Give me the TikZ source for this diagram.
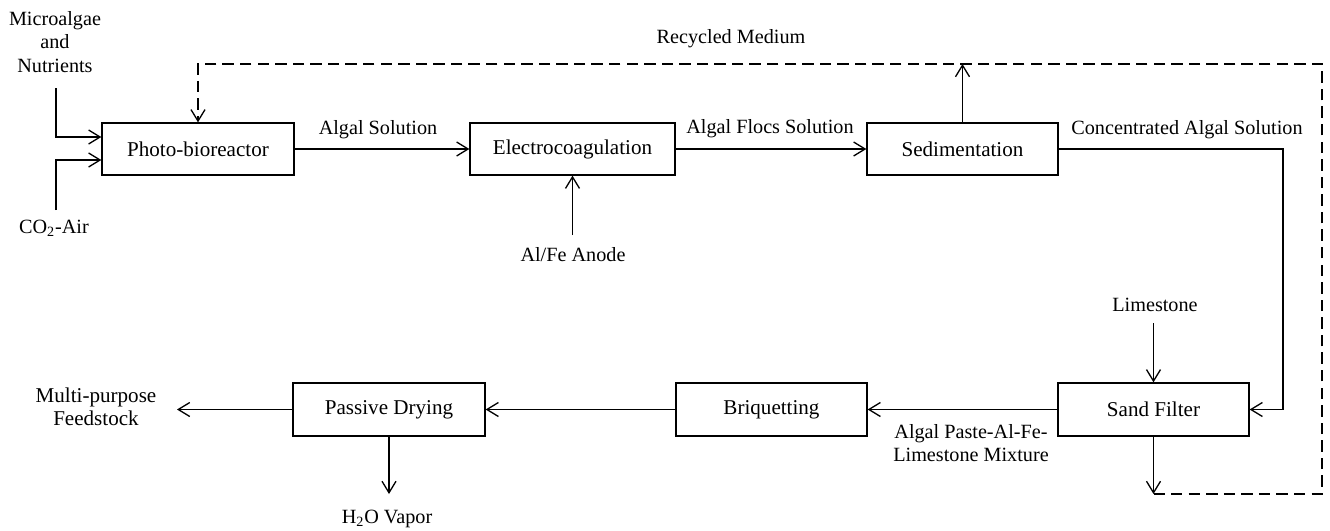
\documentclass[tikz,border=0pt]{standalone}
\usepackage{fontspec}
\setmainfont{Liberation Serif}
\usetikzlibrary{arrows.meta}
\begin{document}
\begin{tikzpicture}[x=0.02cm,y=-0.02cm,
  box/.style={draw,line width=0.75pt,minimum height=1.04cm,inner sep=0pt,font=\fontsize{12}{14}\selectfont},
  lbl/.style={inner sep=0pt,align=center,font=\fontsize{11.5}{13.3}\selectfont},
  arr/.style={line width=0.75pt,-{Straight Barb[length=2.3mm,width=2.8mm]}},
  ln/.style={line width=0.75pt},
  dsh/.style={dash pattern=on 6.5pt off 3.5pt}]
\useasboundingbox (0,0) rectangle (1330,531);

% process boxes
\node[box,minimum width=3.84cm] (pbr) at (198,149) {Photo-bioreactor};
\node[box,minimum width=4.10cm] (ec)  at (572.5,149) {Electrocoagulation};
\node[box,minimum width=3.82cm] (sed) at (962.5,149) {Sedimentation};
\node[box,minimum width=3.82cm,minimum height=1.06cm] (sf)  at (1153.5,409.5) {Sand Filter};
\node[box,minimum width=3.82cm,minimum height=1.06cm] (bq)  at (771.5,409.5) {Briquetting};
\node[box,minimum width=3.84cm,minimum height=1.06cm] (pd)  at (389,409.5) {Passive Drying};

% text labels
\node[lbl] (mic) at (55,42) {Microalgae\\and\\Nutrients};
\node[lbl] (co2) at (54,228) {CO\textsubscript{2}-Air};
\node[lbl] (l1) at (378,130) {Algal Solution};
\node[lbl] (l2) at (770,129) {Algal Flocs Solution};
\node[lbl] (l3) at (1187,130) {Concentrated Algal Solution};
\node[lbl] (rm) at (731,39) {Recycled Medium};
\node[lbl] (an) at (573,255) {Al/Fe Anode};
\node[lbl] (ls) at (1155,305) {Limestone};
\node[lbl] (mix) at (971,443) {Algal Paste-Al-Fe-\\Limestone Mixture};
\node[lbl,font=\fontsize{12}{13.3}\selectfont] (mp) at (96,407) {Multi-purpose\\Feedstock};
\node[lbl] (h2o) at (387,519) {H\textsubscript{2}O Vapor};

% free ends
\coordinate (micS) at (56,88);
\coordinate (co2N) at (56,210);
\coordinate (anN) at (572.5,235);
\coordinate (lsS) at (1153.5,323);
\coordinate (cr) at (1283,149);
\coordinate (dbot) at (1153.5,494);
\coordinate (dbr) at (1322,494);
\coordinate (dtr) at (1322,64);
\coordinate (mpE) at (177,409.5);
\coordinate (h2oN) at (389,494);

% connectors
\draw[arr] (micS) |- ([yshift=0.24cm]pbr.west);
\draw[arr] (co2N) |- ([yshift=-0.22cm]pbr.west);
\draw[arr] (pbr.east) -- (ec.west);
\draw[arr] (ec.east) -- (sed.west);
\draw[arr] (anN) -- (ec.south);
\draw[arr] (sed.north) -- (sed.north |- dtr);
\draw[arr] (sed.east) -- (cr) |- (sf.east);
\draw[arr] (lsS) -- (sf.north);
\draw[arr] (sf.west) -- (bq.east);
\draw[arr] (bq.west) -- (pd.east);
\draw[arr] (pd.west) -- (mpE);
\draw[arr] (pd.south) -- (h2oN);
\draw[arr] (sf.south) -- (dbot);
\draw[arr,dsh] (dbot) -- (dbr) -- (dtr) -| (pbr.north);
\end{tikzpicture}
\end{document}
